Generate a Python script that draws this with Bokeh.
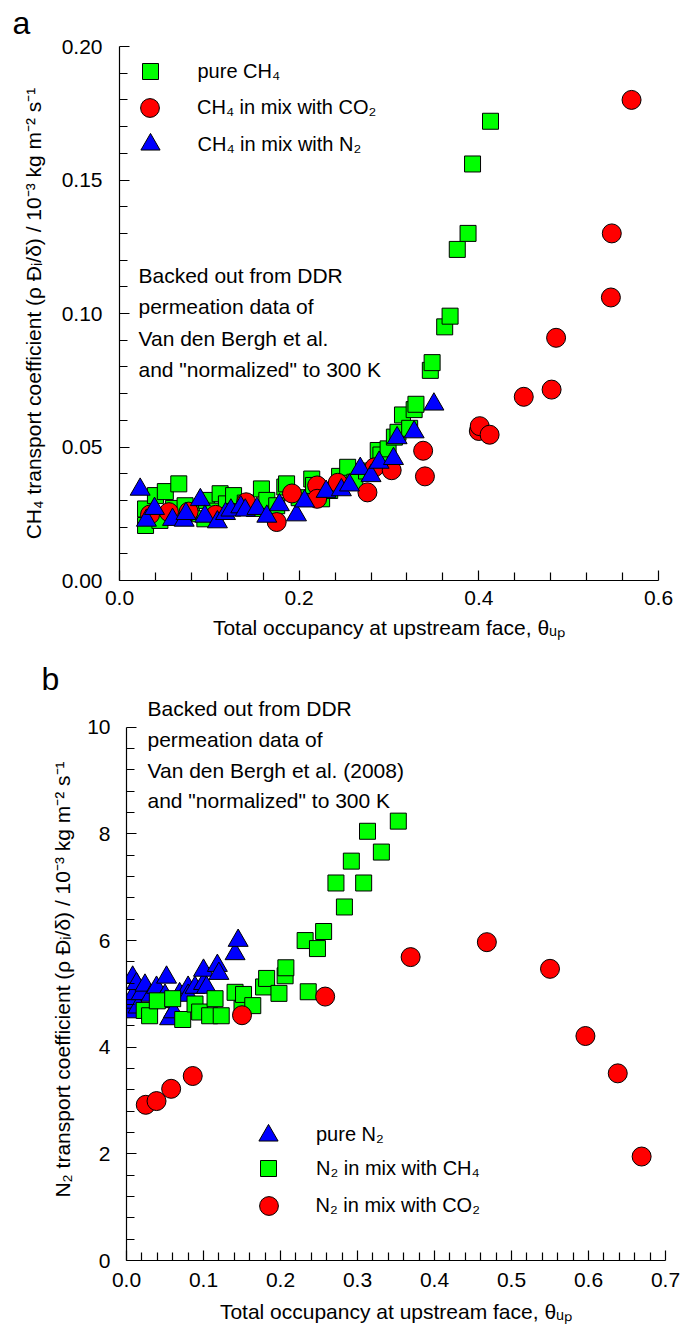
from bokeh.plotting import figure
from bokeh.models import (Range1d, FixedTicker, NumeralTickFormatter, Legend,
                          LegendItem, Label, Title)
from bokeh.embed import file_html
from bokeh.resources import INLINE

FONT = "Liberation Sans"

# ---------------- Panel a data (CH4) ----------------
a_pure_ch4_x = [0.029, 0.029, 0.040, 0.045, 0.051, 0.060, 0.066, 0.073, 0.080, 0.095,
                0.097, 0.105, 0.112, 0.119, 0.127, 0.140, 0.150, 0.158, 0.164, 0.175,
                0.184, 0.186, 0.200, 0.214, 0.216, 0.225, 0.234, 0.245, 0.254, 0.262,
                0.275, 0.288, 0.291, 0.299, 0.306, 0.310, 0.315, 0.323, 0.328, 0.330,
                0.346, 0.348, 0.362, 0.368, 0.376, 0.388, 0.393, 0.413]
a_pure_ch4_y = [0.0206, 0.0268, 0.0318, 0.0225, 0.0333, 0.0270, 0.0362, 0.0280, 0.0250, 0.0231,
                0.0300, 0.0260, 0.0325, 0.0287, 0.0318, 0.0290, 0.0270, 0.0343, 0.0300, 0.0280,
                0.0350, 0.0362, 0.0310, 0.0380, 0.0356, 0.0306, 0.0337, 0.0390, 0.0424, 0.0368,
                0.0410, 0.0487, 0.0470, 0.0493, 0.0537, 0.0555, 0.0620, 0.0570, 0.0640, 0.0660,
                0.0787, 0.0816, 0.0950, 0.0990, 0.1240, 0.1300, 0.1560, 0.1720]

a_mix_co2_x = [0.034, 0.055, 0.077, 0.107, 0.141, 0.175, 0.192, 0.220, 0.220, 0.243,
               0.276, 0.284, 0.303, 0.338, 0.340, 0.400, 0.401, 0.412, 0.450, 0.481,
               0.486, 0.547, 0.548, 0.570]
a_mix_co2_y = [0.0247, 0.0256, 0.0258, 0.0246, 0.0293, 0.0219, 0.0326, 0.0356, 0.0306, 0.0366,
               0.0330, 0.0424, 0.0413, 0.0486, 0.0390, 0.0560, 0.0578, 0.0546, 0.0688, 0.0715,
               0.0909, 0.1060, 0.1300, 0.1800]

a_mix_n2_x = [0.023, 0.030, 0.039, 0.059, 0.072, 0.074, 0.090, 0.095, 0.109, 0.118,
              0.124, 0.135, 0.140, 0.153, 0.164, 0.178, 0.197, 0.206, 0.230, 0.247,
              0.256, 0.268, 0.280, 0.289, 0.305, 0.309, 0.328, 0.350]
a_mix_n2_y = [0.0341, 0.0225, 0.0269, 0.0228, 0.0225, 0.0250, 0.0302, 0.0240, 0.0219, 0.0250,
              0.0263, 0.0275, 0.0263, 0.0269, 0.0240, 0.0283, 0.0245, 0.0297, 0.0333, 0.0339,
              0.0357, 0.0419, 0.0392, 0.0442, 0.0456, 0.0534, 0.0556, 0.0660]

a_xticks = [0.0, 0.2, 0.4, 0.6]
a_xminor = [0.04, 0.08, 0.12, 0.16, 0.24, 0.28, 0.32, 0.36, 0.44, 0.48, 0.52, 0.56]
a_yticks = [0.00, 0.05, 0.10, 0.15, 0.20]
a_yminor = [0.01, 0.02, 0.03, 0.04, 0.06, 0.07, 0.08, 0.09, 0.11, 0.12, 0.13, 0.14,
            0.16, 0.17, 0.18, 0.19]

a_labels = ["pure CH\u2084", "CH\u2084 in mix with CO\u2082", "CH\u2084 in mix with N\u2082"]
a_note = ["Backed out from DDR", "permeation data of", "Van den Bergh et al.",
          "and \"normalized\" to 300 K"]
a_ylabel = "CH\u2084 transport coefficient (\u03c1 \u0110\u1d62/\u03b4) / 10\u207b\u00b3 kg m\u207b\u00b2 s\u207b\u00b9"

# ---------------- Panel b data (N2) ----------------
b_pure_n2_x = [0.005, 0.007, 0.008, 0.010, 0.013, 0.015, 0.019, 0.024, 0.032, 0.039,
               0.045, 0.050, 0.052, 0.056, 0.061, 0.069, 0.080, 0.080, 0.089, 0.100,
               0.100, 0.104, 0.118, 0.120, 0.141, 0.145]
b_pure_n2_y = [4.66, 4.84, 5.31, 5.00, 5.19, 4.75, 5.00, 5.16, 4.97, 5.12,
               4.85, 4.97, 5.31, 4.53, 4.66, 5.00, 5.12, 4.97, 5.12, 5.19,
               5.44, 5.12, 5.53, 5.38, 5.75, 6.00]

b_mix_ch4_x = [0.023, 0.030, 0.040, 0.060, 0.073, 0.089, 0.095, 0.108, 0.115, 0.123,
               0.141, 0.150, 0.152, 0.164, 0.178, 0.182, 0.198, 0.206, 0.207, 0.232,
               0.236, 0.248, 0.256, 0.272, 0.283, 0.292, 0.308, 0.313, 0.331, 0.353]
b_mix_ch4_y = [4.69, 4.59, 4.87, 4.91, 4.52, 4.81, 4.66, 4.59, 4.91, 4.59,
               5.03, 4.72, 4.99, 4.78, 5.13, 5.29, 5.01, 5.34, 5.49, 6.00,
               5.04, 5.85, 6.17, 7.08, 6.63, 7.49, 7.08, 8.05, 7.66, 8.24]

b_mix_co2_x = [0.025, 0.039, 0.058, 0.086, 0.150, 0.258, 0.369, 0.468, 0.550, 0.596,
               0.638, 0.669]
b_mix_co2_y = [2.92, 2.99, 3.22, 3.46, 4.60, 4.95, 5.69, 5.97, 5.47, 4.21,
               3.51, 1.95]

b_xticks = [0.0, 0.1, 0.2, 0.3, 0.4, 0.5, 0.6, 0.7]
b_xminor = [0.02, 0.04, 0.06, 0.08, 0.12, 0.14, 0.16, 0.18, 0.22, 0.24, 0.26, 0.28,
            0.32, 0.34, 0.36, 0.38, 0.42, 0.44, 0.46, 0.48, 0.52, 0.54, 0.56, 0.58,
            0.62, 0.64, 0.66, 0.68]
b_yticks = [0, 2, 4, 6, 8, 10]
b_yminor = [0.4, 0.8, 1.2, 1.6, 2.4, 2.8, 3.2, 3.6, 4.4, 4.8, 5.2, 5.6, 6.4, 6.8,
            7.2, 7.6, 8.4, 8.8, 9.2, 9.6]

b_labels = ["pure N\u2082", "N\u2082 in mix with CH\u2084", "N\u2082 in mix with CO\u2082"]
b_note = ["Backed out from DDR", "permeation data of", "Van den Bergh et al. (2008)",
          "and \"normalized\" to 300 K"]
b_ylabel = "N\u2082 transport coefficient (\u03c1 \u0110\u1d62/\u03b4) / 10\u207b\u00b3 kg m\u207b\u00b2 s\u207b\u00b9"

x_label = "Total occupancy at upstream face, \u03b8\u1d64\u209a"

GREEN = "#00ff00"
RED = "#ff0000"
BLUE = "#0000ff"
TXT = "21px"
LEG = "20px"


def make_fig(width, height, xr, yr, left, right, top, bottom):
    p = figure(width=width, height=height, x_range=Range1d(*xr), y_range=Range1d(*yr),
               output_backend="svg", toolbar_location=None,
               min_border_left=left, min_border_right=right,
               min_border_top=top, min_border_bottom=bottom)
    p.outline_line_color = None
    p.xgrid.visible = False
    p.ygrid.visible = False
    p.background_fill_color = "white"
    p.border_fill_color = "white"
    for ax in (p.xaxis[0], p.yaxis[0]):
        ax.axis_line_color = "black"
        ax.axis_line_width = 1.2
        ax.major_tick_line_color = "black"
        ax.minor_tick_line_color = "black"
        ax.major_tick_line_width = 1.2
        ax.minor_tick_line_width = 1.2
        ax.major_tick_in = 10
        ax.major_tick_out = 0
        ax.minor_tick_in = 8
        ax.minor_tick_out = 0
        ax.major_label_text_font = FONT
        ax.major_label_text_font_size = "21px"
        ax.major_label_text_color = "black"
        ax.axis_label_text_font = FONT
        ax.axis_label_text_font_size = TXT
        ax.axis_label_text_font_style = "normal"
        ax.axis_label_text_color = "black"
    return p


def add_note(p, lines, x0, y0, step):
    for i, t in enumerate(lines):
        p.add_layout(Label(x=x0, y=y0 - i * step, x_units="screen", y_units="screen",
                           text=t, text_font=FONT, text_font_size=TXT,
                           text_baseline="middle", text_color="black"))


def add_legend(p, renderer, label, loc, glyph, standoff):
    p.add_layout(Legend(items=[LegendItem(label=label, renderers=[renderer])],
                        location=loc, glyph_width=glyph, glyph_height=glyph,
                        padding=0, margin=0, label_standoff=standoff,
                        border_line_color=None, background_fill_alpha=0,
                        label_text_font=FONT, label_text_font_size=LEG,
                        label_text_color="black"))


def add_letter(p, letter, offset, standoff):
    p.add_layout(Title(text=letter, align="left", vertical_align="top", offset=offset,
                       standoff=standoff, text_font=FONT, text_font_size="32px",
                       text_font_style="normal", text_color="black"), "above")


# ---------------- Panel a ----------------
pa = make_fig(690, 660, (0, 0.6), (0, 0.2), 119, 32, 46, 80)
pa.xaxis.ticker = FixedTicker(ticks=a_xticks, minor_ticks=a_xminor)
pa.yaxis.ticker = FixedTicker(ticks=a_yticks, minor_ticks=a_yminor)
pa.xaxis.formatter = NumeralTickFormatter(format="0.0")
pa.yaxis.formatter = NumeralTickFormatter(format="0.00")
pa.xaxis.major_label_standoff = 10
pa.yaxis.major_label_standoff = 17
pa.xaxis.axis_label = x_label
pa.yaxis.axis_label = a_ylabel
pa.xaxis.axis_label_standoff = 8
pa.yaxis.axis_label_standoff = 14

ra1 = pa.scatter(a_pure_ch4_x, a_pure_ch4_y, marker="square", size=16,
                 fill_color=GREEN, line_color="black", line_width=1)
ra2 = pa.scatter(a_mix_co2_x, a_mix_co2_y, marker="circle", size=19,
                 fill_color=RED, line_color="black", line_width=1)
ra3 = pa.scatter(a_mix_n2_x, a_mix_n2_y, marker="triangle", size=20,
                 fill_color=BLUE, line_color="black", line_width=1)

# legend boxes: glyph size = 0.4 * box; centres at x=149.5, y=71.3/107.5/144 (page px)
add_legend(pa, ra1, a_labels[0], (10.5, 488.7), 40, 28)
add_legend(pa, ra2, a_labels[1], (7.0, 449.0), 47, 24)
add_legend(pa, ra3, a_labels[2], (6.5, 412.0), 48, 24)
add_note(pa, a_note, 19, 305, 31.3)
add_letter(pa, "a", -107, 8)

# ---------------- Panel b ----------------
pb = make_fig(690, 668, (0, 0.7), (0, 10.54), 126, 25, 38, 68)
pb.yaxis.bounds = (0, 10)
pb.xaxis.ticker = FixedTicker(ticks=b_xticks, minor_ticks=b_xminor)
pb.yaxis.ticker = FixedTicker(ticks=b_yticks, minor_ticks=b_yminor)
pb.xaxis.formatter = NumeralTickFormatter(format="0.0")
pb.yaxis.formatter = NumeralTickFormatter(format="0")
pb.xaxis.major_label_standoff = 12
pb.yaxis.major_label_standoff = 16
pb.xaxis.axis_label = x_label
pb.yaxis.axis_label = b_ylabel
pb.xaxis.axis_label_standoff = 10
pb.yaxis.axis_label_standoff = 10

rb1 = pb.scatter(b_pure_n2_x, b_pure_n2_y, marker="triangle", size=20,
                 fill_color=BLUE, line_color="black", line_width=1)
rb2 = pb.scatter(b_mix_ch4_x, b_mix_ch4_y, marker="square", size=16,
                 fill_color=GREEN, line_color="black", line_width=1)
rb3 = pb.scatter(b_mix_co2_x, b_mix_co2_y, marker="circle", size=19,
                 fill_color=RED, line_color="black", line_width=1)

# centres at x=268, y=1134.5/1168.3/1205 (page px)
add_legend(pb, rb1, b_labels[0], (118.0, 101.5), 48, 24)
add_legend(pb, rb2, b_labels[1], (122.0, 71.7), 40, 28)
add_legend(pb, rb3, b_labels[2], (118.5, 31.5), 47, 24)
add_note(pb, b_note, 21, 552, 30.8)
add_letter(pb, "b", -85, 0)

open("out.html", "w").write(file_html([pa, pb], INLINE))
